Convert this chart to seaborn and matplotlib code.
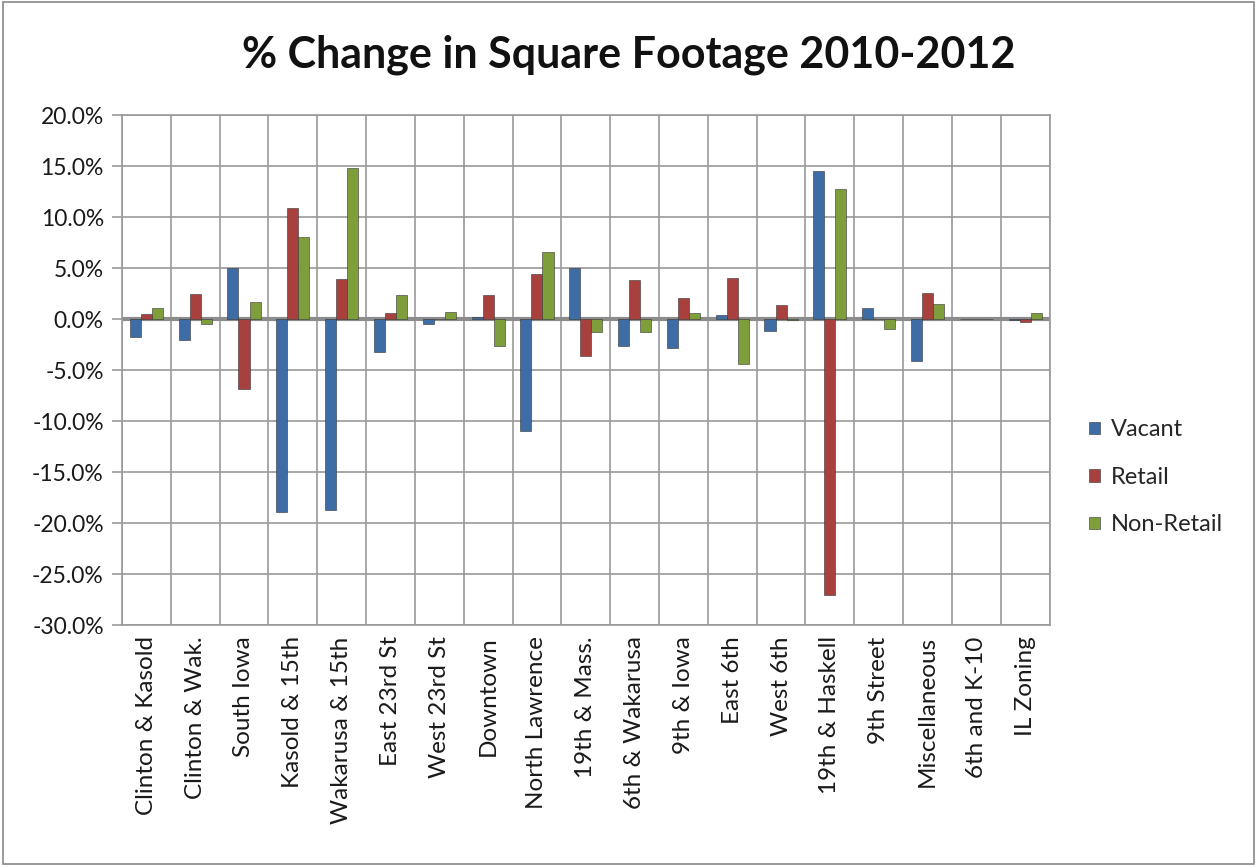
import numpy as np
import pandas as pd
import matplotlib.pyplot as plt
import seaborn as sns
from matplotlib.ticker import FuncFormatter, FixedLocator

# Data (% change 2010-2012)
areas = ['Clinton & Kasold', 'Clinton & Wak.', 'South Iowa', 'Kasold & 15th',
         'Wakarusa & 15th', 'East 23rd St', 'West 23rd St', 'Downtown',
         'North Lawrence', '19th & Mass.', '6th & Wakarusa', '9th & Iowa',
         'East 6th', 'West 6th', '19th & Haskell', '9th Street',
         'Miscellaneous', '6th and K-10', 'IL Zoning']
vacant = [-1.7, -2.0, 5.0, -18.9, -18.7, -3.2, -0.5, 0.2, -11.0, 5.0,
          -2.6, -2.8, 0.45, -1.2, 14.5, 1.1, -4.1, 0.0, -0.1]
retail = [0.5, 2.5, -6.8, 10.9, 3.9, 0.65, 0.05, 2.4, 4.4, -3.6,
          3.8, 2.1, 4.0, 1.4, -27.0, 0.05, 2.6, 0.0, -0.3]
non_retail = [1.1, -0.5, 1.7, 8.1, 14.8, 2.4, 0.7, -2.6, 6.6, -1.3,
              -1.3, 0.6, -4.4, -0.1, 12.8, -1.0, 1.5, 0.0, 0.6]
series = ['Vacant', 'Retail', 'Non-Retail']
colors = ['#3E6DA6', '#A8403D', '#7E9E3C']

df = pd.DataFrame({'area': areas * 3,
                   'series': np.repeat(series, len(areas)),
                   'value': vacant + retail + non_retail})

sns.set_style('white')
plt.rcParams['font.family'] = ['Lato', 'DejaVu Sans']

fig = plt.figure(figsize=(12.57, 8.66), dpi=100)
ax = fig.add_axes([0.097, 0.278, 0.738, 0.589])

sns.barplot(data=df, x='area', y='value', hue='series', order=areas,
            hue_order=series, palette=colors, width=0.68, saturation=1,
            edgecolor='#333333', linewidth=0.4, ax=ax, zorder=3)

ax.set_ylim(-30, 20)
ax.set_yticks(np.arange(-30, 21, 5))
ax.yaxis.set_major_formatter(FuncFormatter(lambda v, p: f'{v:.1f}%'))
ax.set_xlim(-0.5, len(areas) - 0.5)
ax.xaxis.set_minor_locator(FixedLocator(np.arange(-0.5, len(areas), 1)))
ax.grid(True, axis='y', which='major', color='#9a9a9a', linewidth=1.2, zorder=0)
ax.grid(True, axis='x', which='minor', color='#9a9a9a', linewidth=1.2, zorder=0)
ax.grid(False, axis='x', which='major')
ax.axhline(0, color='#8c8c8c', linewidth=3, zorder=2)
for s in ax.spines.values():
    s.set_color('#9a9a9a')
    s.set_linewidth(1.2)

ax.set_xlabel('')
ax.set_ylabel('')
ax.tick_params(axis='x', which='both', length=0, labelsize=17.5, pad=8, colors='#1a1a1a')
ax.tick_params(axis='y', left=True, length=7, width=1.2, color='#9a9a9a',
               labelsize=16.5, labelcolor='#1a1a1a', pad=6)
for lab in ax.get_xticklabels():
    lab.set_rotation(90)

ax.legend(loc='center left', bbox_to_anchor=(1.043, 0.29), frameon=False,
          fontsize=17, handlelength=0.45, handleheight=0.45, labelspacing=1.12,
          handletextpad=0.45, borderaxespad=0, borderpad=0)

fig.text(0.5, 0.937, '% Change in Square Footage 2010-2012', ha='center', va='center',
         fontsize=31, fontweight='bold', color='#111111')

fig.patches.append(plt.Rectangle((0.002, 0.002), 0.996, 0.996, transform=fig.transFigure,
                                 fill=False, edgecolor='#888888', linewidth=1.2))

fig.savefig('out.png', dpi=100)
